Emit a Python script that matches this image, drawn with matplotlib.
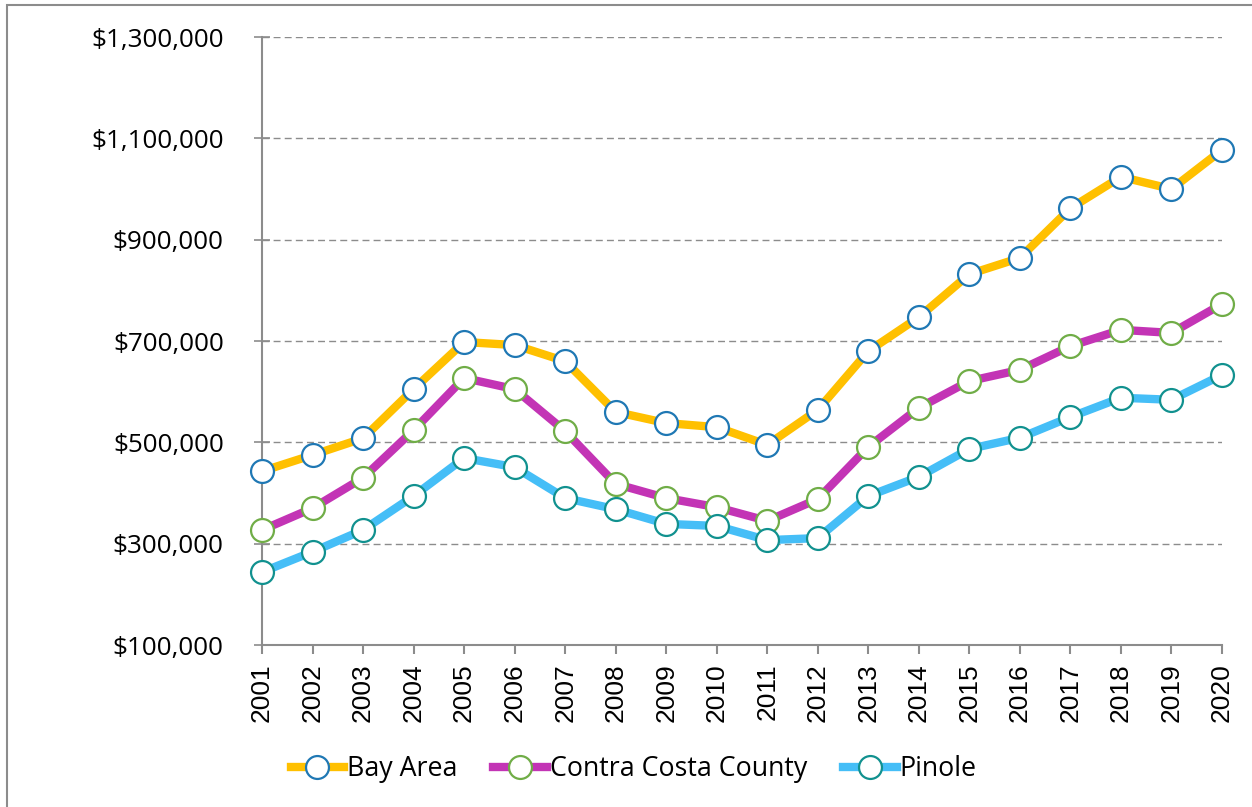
import matplotlib.pyplot as plt
from matplotlib.patches import Rectangle
from matplotlib.ticker import FuncFormatter

plt.rcParams['font.family'] = ['Open Sans', 'DejaVu Sans']

years = list(range(2001, 2021))
bay_area = [443000, 475000, 508000, 605000, 698000, 692000, 660000, 560000, 538000, 530000,
            495000, 564000, 680000, 747000, 832000, 864000, 962000, 1024000, 1000000, 1077000]
contra_costa = [327000, 370000, 430000, 524000, 627000, 605000, 522000, 418000, 390000, 372000,
                345000, 388000, 491000, 568000, 621000, 643000, 690000, 722000, 716000, 773000]
pinole = [244000, 284000, 327000, 394000, 469000, 451000, 390000, 368000, 339000, 335000,
          307000, 311000, 394000, 432000, 487000, 509000, 550000, 588000, 584000, 633000]

series = [
    ('Bay Area', bay_area, '#FFC000', '#1F78B4'),
    ('Contra Costa County', contra_costa, '#C334B5', '#70AD47'),
    ('Pinole', pinole, '#45BEF7', '#11918F'),
]

fig = plt.figure(figsize=(12.52, 8.07), dpi=100)
ax = fig.add_axes([262 / 1252, 1 - 645 / 807, 960 / 1252, 608 / 807])

for name, vals, color, edge in series:
    ax.plot(years, vals, color=color, lw=6, marker='o', ms=16.5,
            mfc='white', mec=edge, mew=1.6, label=name, clip_on=False, zorder=3)

ax.set_xlim(2001, 2020)
ax.set_ylim(100000, 1300000)
ax.set_yticks(range(100000, 1300001, 200000))
ax.yaxis.set_major_formatter(FuncFormatter(lambda v, p: '${:,.0f}'.format(v)))
ax.set_xticks(years)
ax.set_xticklabels([str(y) for y in years], rotation=90, family='Liberation Sans', fontsize=19)

for s in ['top', 'right']:
    ax.spines[s].set_visible(False)
for s in ['left', 'bottom']:
    ax.spines[s].set_color('#8c8c8c')
    ax.spines[s].set_linewidth(1.5)

ax.tick_params(axis='y', direction='inout', length=11, width=1.2, color='#8c8c8c',
               labelsize=18.7, pad=22)
ax.tick_params(axis='x', direction='out', length=6.5, width=1.5, color='#8c8c8c', pad=7)

for v in range(300000, 1300001, 200000):
    ax.axhline(v, color='#8c8c8c', lw=1, ls=(0, (5, 3)), zorder=1)

fig.legend(loc='center', bbox_to_anchor=(0.506, 0.047), ncol=3, frameon=False,
           fontsize=19.3, handlelength=2.0, handletextpad=0.1, columnspacing=1.35)

fig.patches.append(Rectangle((7 / 1252, -0.1), 1.1, 1.1 - 5 / 807, transform=fig.transFigure,
                             fill=False, edgecolor='#8c8c8c', lw=1.5, zorder=0))

fig.savefig('out.png', dpi=100)
